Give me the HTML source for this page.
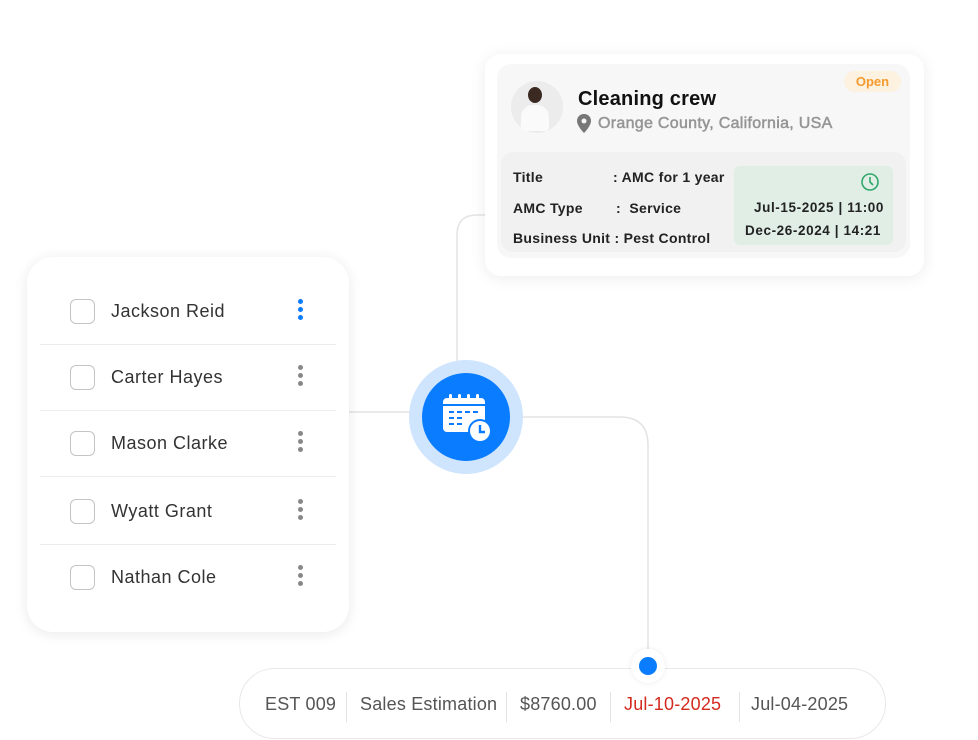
<!DOCTYPE html>
<html><head><meta charset="utf-8"><style>
*{margin:0;padding:0;box-sizing:border-box}
body{width:978px;height:740px;background:#fff;position:relative;overflow:hidden;font-family:"Liberation Sans",sans-serif}
.abs{position:absolute}
.card{position:absolute;left:27px;top:257px;width:322px;height:375px;background:#fff;border-radius:26px;box-shadow:0 2px 14px rgba(0,0,0,.09)}
.row{position:absolute;left:0;width:322px;height:30px}
.cb{position:absolute;left:43px;top:3px;width:25px;height:25px;border:1.5px solid #c4c4c4;border-radius:6px}
.nm{position:absolute;left:84px;top:5px;font-size:18px;color:#333;letter-spacing:.5px}
.dots{position:absolute;left:271px;top:3px;width:6px}
.dots i{display:block;width:5px;height:5px;border-radius:50%;background:#888;margin-bottom:3px}
.dv{position:absolute;left:13px;width:296px;height:1px;background:#ececec}
.b{font-weight:bold;font-size:14px;color:#222;position:absolute;letter-spacing:.3px}
.bar span{position:absolute;top:25px;font-size:18px;color:#555;letter-spacing:.2px}
.sep{position:absolute;top:23px;width:1px;height:30px;background:#e3e3e3}
</style></head><body>
<svg class="abs" style="left:0;top:0" width="978" height="740">
<path d="M485 215 H477 Q457 215 457 235 V362" fill="none" stroke="#e3e3e3" stroke-width="1.5"/>
<path d="M349 412 H412" fill="none" stroke="#e3e3e3" stroke-width="1.5"/>
<path d="M520 417 H620 Q648 417 648 445 V660" fill="none" stroke="#e3e3e3" stroke-width="1.5"/>
</svg>
<div class="card">
 <div class="row" style="top:39px"><div class="cb"></div><div class="nm">Jackson Reid</div><div class="dots"><i style="background:#0a7cff"></i><i style="background:#0a7cff"></i><i style="background:#0a7cff"></i></div></div>
 <div class="dv" style="top:87px"></div>
 <div class="row" style="top:105px"><div class="cb"></div><div class="nm">Carter Hayes</div><div class="dots"><i></i><i></i><i></i></div></div>
 <div class="dv" style="top:153px"></div>
 <div class="row" style="top:171px"><div class="cb"></div><div class="nm">Mason Clarke</div><div class="dots"><i></i><i></i><i></i></div></div>
 <div class="dv" style="top:219px"></div>
 <div class="row" style="top:239px"><div class="cb"></div><div class="nm">Wyatt Grant</div><div class="dots"><i></i><i></i><i></i></div></div>
 <div class="dv" style="top:287px"></div>
 <div class="row" style="top:305px"><div class="cb"></div><div class="nm">Nathan Cole</div><div class="dots"><i></i><i></i><i></i></div></div>
</div>
<div class="abs" style="left:485px;top:54px;width:439px;height:222px;background:#fff;border-radius:16px;box-shadow:0 2px 16px rgba(0,0,0,.08)"></div>
<div class="abs" style="left:497px;top:64px;width:413px;height:194px;background:#f7f7f7;border-radius:14px"></div>
<div class="abs" style="left:511px;top:81px;width:52px;height:52px;border-radius:50%;background:#ececec"></div>
<div class="abs" style="left:528px;top:87px;width:14px;height:16px;border-radius:50%;background:#3a2a22"></div>
<div class="abs" style="left:521px;top:105px;width:28px;height:26px;border-radius:12px 12px 4px 4px;background:#fafafa"></div>
<div class="abs" style="left:578px;top:88px;font-size:20px;font-weight:bold;color:#111;letter-spacing:.2px">Cleaning crew</div>
<svg class="abs" style="left:577px;top:114px" width="14" height="20"><path d="M7 0C3 0 0 3 0 7c0 5 7 12 7 12s7-7 7-12C14 3 11 0 7 0z" fill="#777"/><circle cx="7" cy="7" r="2.5" fill="#f7f7f7"/></svg>
<div class="abs" style="left:598px;top:115px;font-size:16px;color:#959595;letter-spacing:.3px;-webkit-text-stroke:.5px #959595">Orange County, California, USA</div>
<div class="abs" style="left:844px;top:71px;width:57px;height:21px;border-radius:11px;background:#fdf1df;color:#f59a2e;font-size:13px;font-weight:bold;text-align:center;line-height:21px">Open</div>
<div class="abs" style="left:501px;top:152px;width:405px;height:100px;background:#f1f1f1;border-radius:12px"></div>
<div class="abs" style="left:734px;top:166px;width:159px;height:79px;background:#e0eee6;border-radius:6px"></div>
<div class="b" style="left:513px;top:169px">Title</div><div class="b" style="left:613px;top:169px">: AMC for 1 year</div>
<div class="b" style="left:513px;top:200px">AMC Type</div><div class="b" style="left:616px;top:200px">:&nbsp; Service</div>
<div class="b" style="left:513px;top:230px">Business Unit : Pest Control</div>
<svg class="abs" style="left:860px;top:172px" width="20" height="20"><circle cx="10" cy="10" r="8" fill="none" stroke="#2fa86a" stroke-width="1.6"/><path d="M10 5V10L13 13" fill="none" stroke="#2fa86a" stroke-width="1.6"/></svg>
<div class="b" style="left:754px;top:200px;font-size:13.5px;letter-spacing:.6px">Jul-15-2025 | 11:00</div>
<div class="b" style="left:745px;top:223px;font-size:13.5px;letter-spacing:.6px">Dec-26-2024 | 14:21</div>
<div class="abs" style="left:409px;top:360px;width:114px;height:114px;border-radius:50%;background:#cfe4fd"></div>
<div class="abs" style="left:422px;top:373px;width:88px;height:88px;border-radius:50%;background:#0a7cff"></div>
<svg class="abs" style="left:440px;top:392px" width="52" height="52">
<rect x="3" y="6" width="42" height="34" rx="4" fill="#fff"/>
<rect x="3" y="12" width="42" height="2" fill="#0a7cff"/>
<g fill="#fff"><rect x="9" y="2" width="3" height="7" rx="1.5"/><rect x="18" y="2" width="3" height="7" rx="1.5"/><rect x="27" y="2" width="3" height="7" rx="1.5"/><rect x="36" y="2" width="3" height="7" rx="1.5"/></g>
<g fill="#0a7cff"><rect x="9" y="19" width="5" height="2"/><rect x="17" y="19" width="5" height="2"/><rect x="25" y="19" width="5" height="2"/><rect x="33" y="19" width="5" height="2"/><rect x="9" y="25" width="5" height="2"/><rect x="17" y="25" width="5" height="2"/><rect x="9" y="31" width="5" height="2"/><rect x="17" y="31" width="5" height="2"/></g>
<circle cx="40" cy="39" r="12" fill="#0a7cff"/><circle cx="40" cy="39" r="10" fill="#fff"/>
<path d="M40 33V40H45" fill="none" stroke="#0a7cff" stroke-width="2.4"/>
</svg>
<div class="abs bar" style="left:239px;top:668px;width:647px;height:71px;border:1.5px solid #e8e8e8;border-radius:36px;background:#fff">
<span style="left:25px">EST 009</span><div class="sep" style="left:106px"></div>
<span style="left:120px">Sales Estimation</span><div class="sep" style="left:266px"></div>
<span style="left:280px">$8760.00</span><div class="sep" style="left:370px"></div>
<span style="left:384px;color:#d42a1f">Jul-10-2025</span><div class="sep" style="left:499px"></div>
<span style="left:511px">Jul-04-2025</span>
</div>
<div class="abs" style="left:631px;top:649px;width:34px;height:34px;border-radius:50%;background:#fff;box-shadow:0 0 6px rgba(0,0,0,.08)"></div>
<div class="abs" style="left:639px;top:657px;width:18px;height:18px;border-radius:50%;background:#0a7cff"></div>
</body></html>
